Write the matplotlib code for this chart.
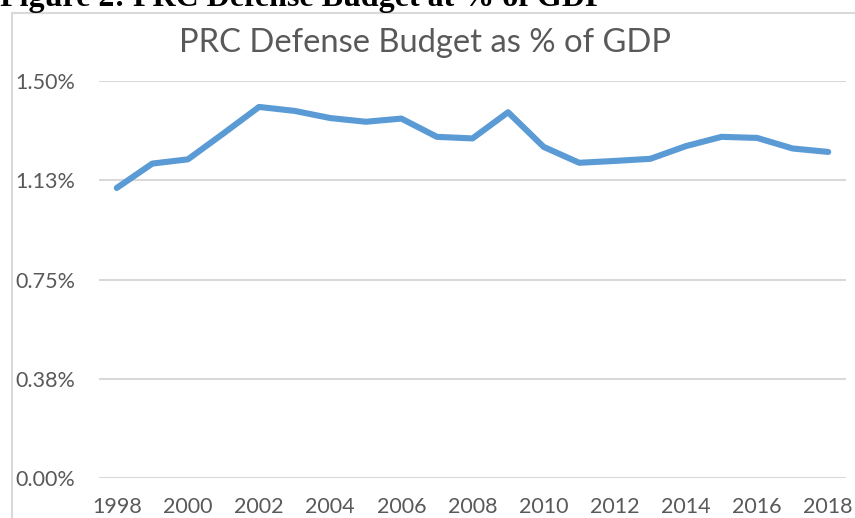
"""PRC defense budget as % of GDP line chart (matplotlib -> out.png)."""

import matplotlib
matplotlib.use("Agg")
import matplotlib.pyplot as plt
from matplotlib.patches import Rectangle

plt.rcParams["font.family"] = ["Lato", "DejaVu Sans"]

# data
years = list(range(1998, 2019))
budget_pct = [
    1.096, 1.188, 1.204, 1.302, 1.402, 1.387, 1.360, 1.346, 1.358, 1.289, 1.283,
    1.382, 1.251, 1.191, 1.198, 1.206, 1.254, 1.289, 1.285, 1.245, 1.232,
]
y_ticks = [0.0, 0.375, 0.75, 1.125, 1.5]
y_tick_labels = ["0.00%", "0.38%", "0.75%", "1.13%", "1.50%"]
x_ticks = list(range(1998, 2019, 2))

caption = "Figure 2: PRC Defense Budget at % of GDP"
title = "PRC Defense Budget as % of GDP"

W, H = 855, 518
fig = plt.figure(figsize=(W / 100, H / 100), dpi=100)

# chart border (cut off at right/bottom like the screenshot)
fig.patches.append(Rectangle((12 / W, -0.1), 1.1, 1 - 12.5 / H + 0.1,
                             transform=fig.transFigure, fill=False,
                             edgecolor="#D9D9D9", linewidth=1.5))

# caption, clipped at the top edge
fig.text(0 / W, 1 - 6 / H, caption, family=["Liberation Serif"], fontweight="bold",
         fontsize=23, color="black", ha="left", va="baseline")

fig.text(425 / W, 1 - 52 / H, title, fontsize=23.6, color="#595959",
         ha="center", va="baseline")

ax = fig.add_axes([99 / W, (H - 478) / H, (846 - 99) / W, (478 - 81) / H])
ax.plot(years, budget_pct, color="#5B9BD5", linewidth=4.4,
        solid_capstyle="round", solid_joinstyle="round", zorder=3)

ax.set_xlim(1997.5, 2018.5)
ax.set_ylim(0, 1.5)
ax.set_yticks(y_ticks, y_tick_labels)
ax.set_xticks(x_ticks)
ax.grid(True, axis="y", color="#D9D9D9", linewidth=1.5)
ax.set_axisbelow(True)
for s in ax.spines.values():
    s.set_visible(False)
ax.tick_params(length=0, labelsize=15.5, labelcolor="#595959")
ax.tick_params(axis="y", pad=17)
ax.tick_params(axis="x", pad=14)

fig.savefig("out.png", dpi=100)
